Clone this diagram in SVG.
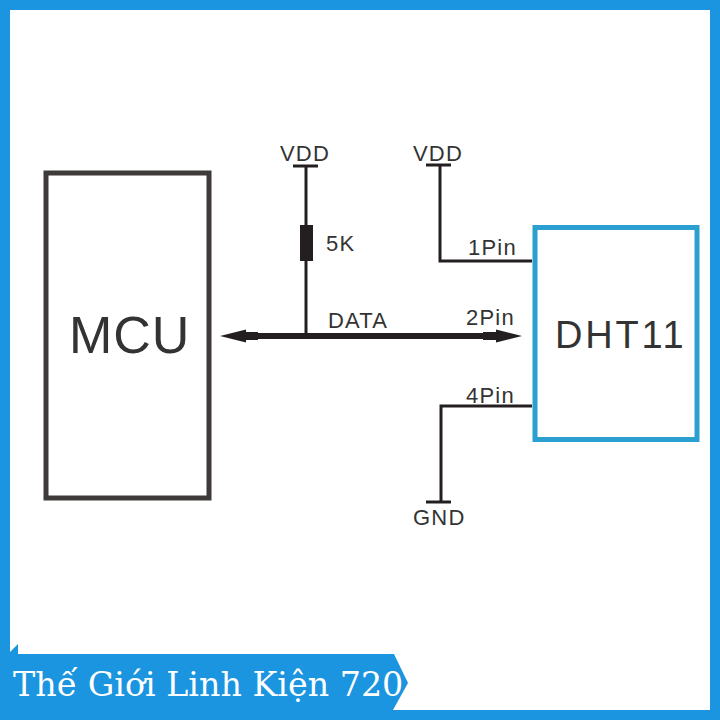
<svg xmlns="http://www.w3.org/2000/svg" width="720" height="720" viewBox="0 0 720 720">
<style>
text{font-family:"Liberation Sans",Arial,sans-serif;fill:#333}
.w{fill:none;stroke:#231f20;stroke-width:3}
.s{font-size:22px;letter-spacing:1.2px}
</style>
<rect width="720" height="720" fill="#fff"/>
<g id="frame"><path d="M0 0H720V720H0ZM10 10V710H710V10Z" fill="#1b95e0" fill-rule="evenodd"/></g>
<g id="connectors">
<path class="w" d="M306 166V333"/>
<rect x="300" y="225" width="13" height="36" fill="#231f20"/>
<path class="w" d="M293 166H318M426 165H451"/>
<path class="w" d="M440 165V261H532"/>
<path class="w" d="M532 406H441V502"/>
<path class="w" d="M426 502H451"/>
<path d="M258 336H484" stroke="#231f20" stroke-width="6" fill="none"/>
<path d="M220 336L246 329.500V332H258V340H246V342.500Z" fill="#231f20"/>
<path d="M522 336L496 329.500V332H483V340H496V342.500Z" fill="#231f20"/>
</g>
<g id="mcu"><rect x="46" y="173" width="163" height="325" fill="none" stroke="#3e3a39" stroke-width="5"/>
<text x="69" y="353" font-size="52" letter-spacing="1">MCU</text></g>
<g id="dht11"><rect x="535" y="227.500" width="162" height="212" fill="none" stroke="#2a9fd0" stroke-width="5"/>
<text x="555" y="348" font-size="38" letter-spacing="2.800">DHT11</text></g>
<g id="labels">
<text class="s" x="280" y="161">VDD</text>
<text class="s" x="413" y="161">VDD</text>
<text class="s" x="413" y="525">GND</text>
<text class="s" x="326" y="251">5K</text>
<text class="s" x="328" y="328">DATA</text>
<text class="s" x="468" y="255">1Pin</text>
<text class="s" x="466" y="325">2Pin</text>
<text class="s" x="466" y="403">4Pin</text>
</g>
<g id="banner">
<path d="M10 654H394L408 683L393 710H10Z" fill="#1b95e0"/>
<path d="M8 654L18 644V654Z" fill="#1b95e0"/>
<text x="13" y="696" font-size="33.300" style='font-family:"DejaVu Serif",serif;fill:#fff'>Thế Giới Linh Kiện 720</text>
</g>
</svg>
